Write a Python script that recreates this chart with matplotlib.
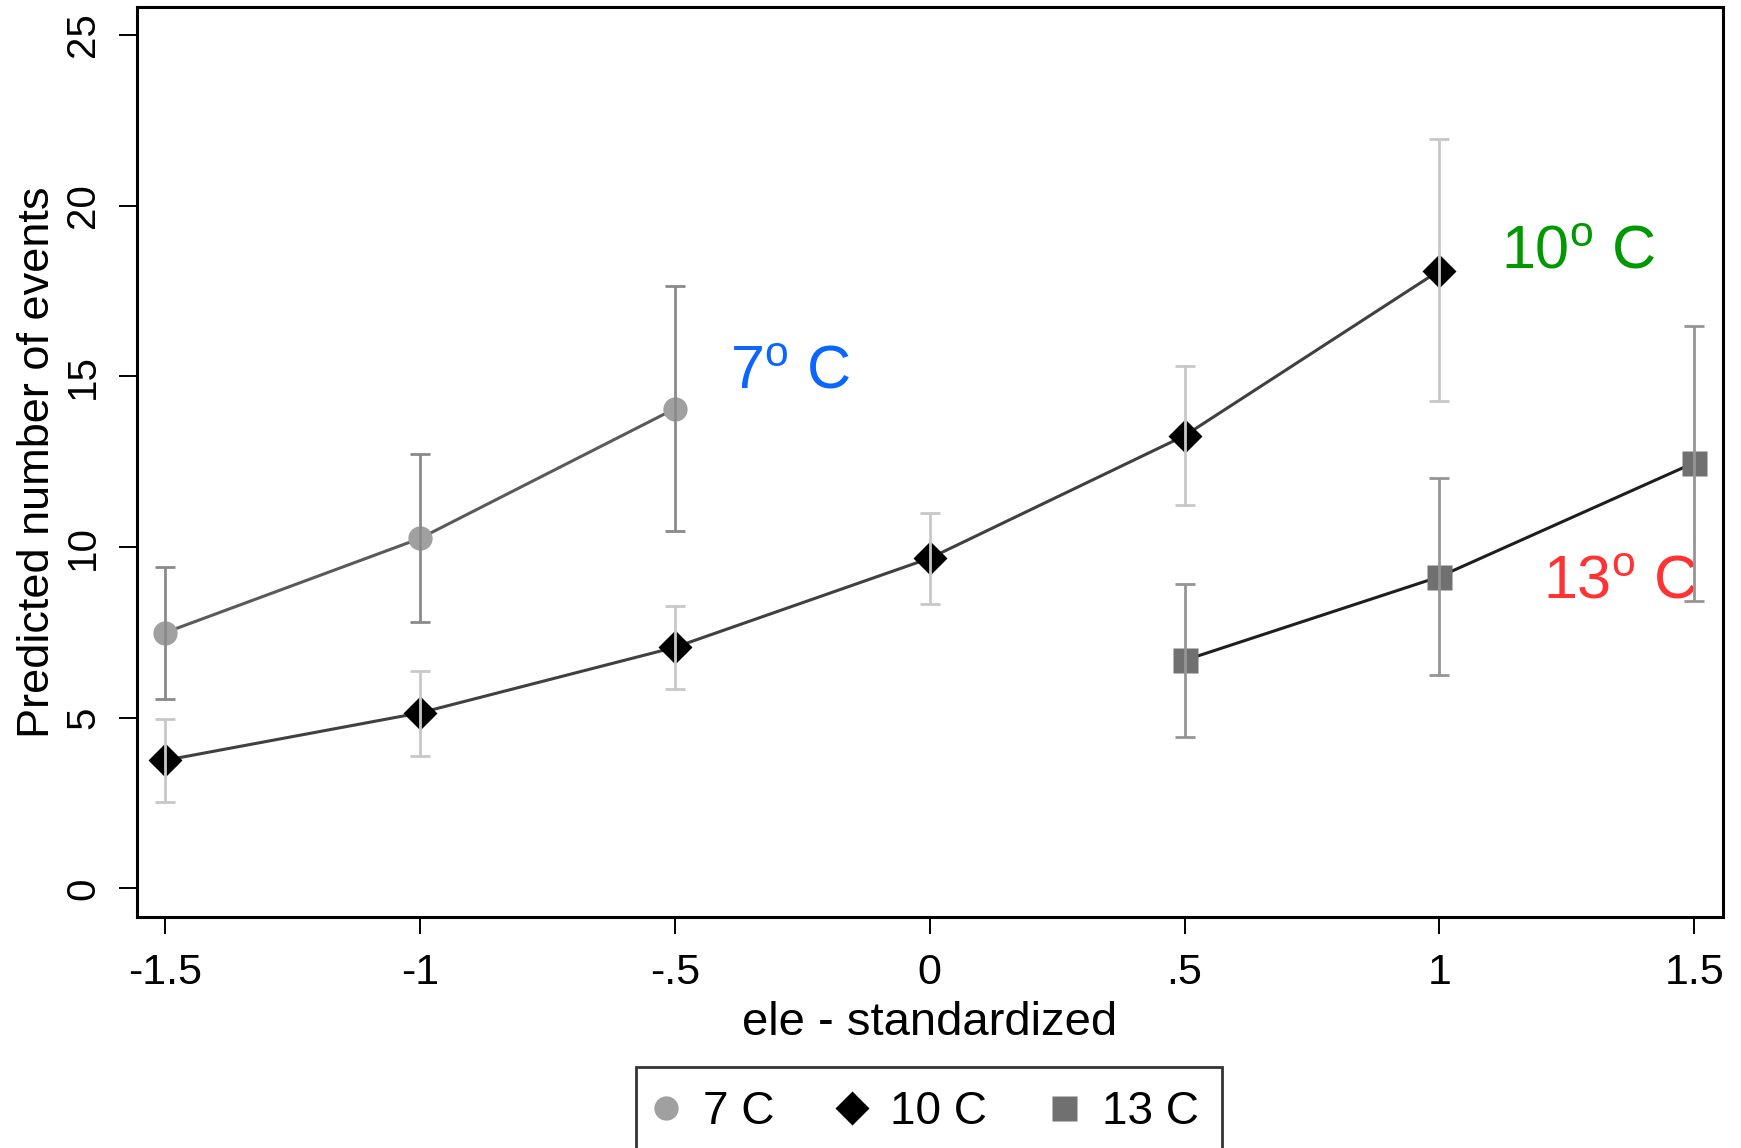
import matplotlib
matplotlib.use("Agg")
import matplotlib.pyplot as plt
from matplotlib.lines import Line2D

plt.rcParams['font.family'] = ['Liberation Sans', 'DejaVu Sans']
plt.rcParams['mathtext.fontset'] = 'custom'
plt.rcParams['mathtext.rm'] = 'Liberation Sans'
plt.rcParams['mathtext.it'] = 'Liberation Sans'

# ---- data ----
x7 = [-1.5, -1.0, -0.5]
y7 = [7.49, 10.25, 14.05]
lo7 = [5.55, 7.80, 10.48]
hi7 = [9.42, 12.73, 17.64]

x10 = [-1.5, -1.0, -0.5, 0.0, 0.5, 1.0]
y10 = [3.75, 5.14, 7.06, 9.67, 13.26, 18.10]
lo10 = [2.54, 3.87, 5.83, 8.33, 11.22, 14.29]
hi10 = [4.96, 6.38, 8.27, 11.00, 15.30, 21.94]

x13 = [0.5, 1.0, 1.5]
y13 = [6.68, 9.13, 12.47]
lo13 = [4.42, 6.26, 8.43]
hi13 = [8.93, 12.02, 16.47]

series_labels = ["7 C", "10 C", "13 C"]
xticks = [-1.5, -1.0, -0.5, 0.0, 0.5, 1.0, 1.5]
xticklabels = ["-1.5", "-1", "-.5", "0", ".5", "1", "1.5"]
yticks = [0, 5, 10, 15, 20, 25]

fig = plt.figure(figsize=(17.41, 11.48), dpi=100)
ax = fig.add_axes([0.0785, 0.2015, 0.9895 - 0.0785, 0.9936 - 0.2015])

specs = [
    (x7, y7, lo7, hi7, 'o', '#a0a0a0', '#5a5a5a', '#8a8a8a'),
    (x10, y10, lo10, hi10, 'D', '#000000', '#404040', '#c8c8c8'),
    (x13, y13, lo13, hi13, 's', '#707070', '#1e1e1e', '#959595'),
]
msizes = {'o': 17.5, 'D': 17.0, 's': 18.0}
for xs, ys, los, his, mk, mc, lc, ec in specs:
    ax.plot(xs, ys, '-', color=lc, lw=2.2, zorder=2)
    ax.plot(xs, ys, linestyle='none', marker=mk, ms=msizes[mk], mfc=mc, mec='none', zorder=3)
    yerr = [[y - l for y, l in zip(ys, los)], [h - y for y, h in zip(ys, his)]]
    ax.errorbar(xs, ys, yerr=yerr, fmt='none', ecolor=ec, elinewidth=2.0,
                capsize=7.5, capthick=2.0, zorder=4)

ax.set_xlim(-1.5555, 1.5557)
ax.set_ylim(-0.83, 25.81)
ax.set_xticks(xticks)
ax.set_xticklabels(xticklabels)
ax.set_yticks(yticks)
ax.tick_params(axis='x', labelsize=31, length=12, width=1.4, pad=14)
ax.tick_params(axis='y', labelsize=29, length=13, width=1.4, pad=12, labelrotation=90)
for lab in ax.get_yticklabels():
    lab.set_va('center')
for s in ax.spines.values():
    s.set_linewidth(2.2)

ax.set_xlabel("ele - standardized", fontsize=34, labelpad=6)
ax.set_ylabel("Predicted number of events", fontsize=32.5, labelpad=4)

ax.text(-0.392, 15.1, r"7$^{\mathregular{o}}$ C", color='#0a66ff', fontsize=44, va='center', ha='left')
ax.text(1.121, 18.6, r"10$^{\mathregular{o}}$ C", color='#009900', fontsize=44, va='center', ha='left')
ax.text(1.204, 8.95, r"13$^{\mathregular{o}}$ C", color='#ff3333', fontsize=44, va='center', ha='left')

handles = [
    Line2D([], [], linestyle='none', marker='o', ms=17.5, mfc='#a0a0a0', mec='none'),
    Line2D([], [], linestyle='none', marker='D', ms=17.0, mfc='#000000', mec='none'),
    Line2D([], [], linestyle='none', marker='s', ms=18.0, mfc='#707070', mec='none'),
]
leg = fig.legend(handles, series_labels, loc='upper left', bbox_to_anchor=(0.3653, 0.0706),
                 ncol=3, fontsize=33, frameon=True, fancybox=False, edgecolor='black',
                 handlelength=0.3, handletextpad=0.67, columnspacing=1.54, borderpad=0.5,
                 borderaxespad=0)
leg.get_frame().set_linewidth(2.0)

fig.savefig("out.png", dpi=100)
